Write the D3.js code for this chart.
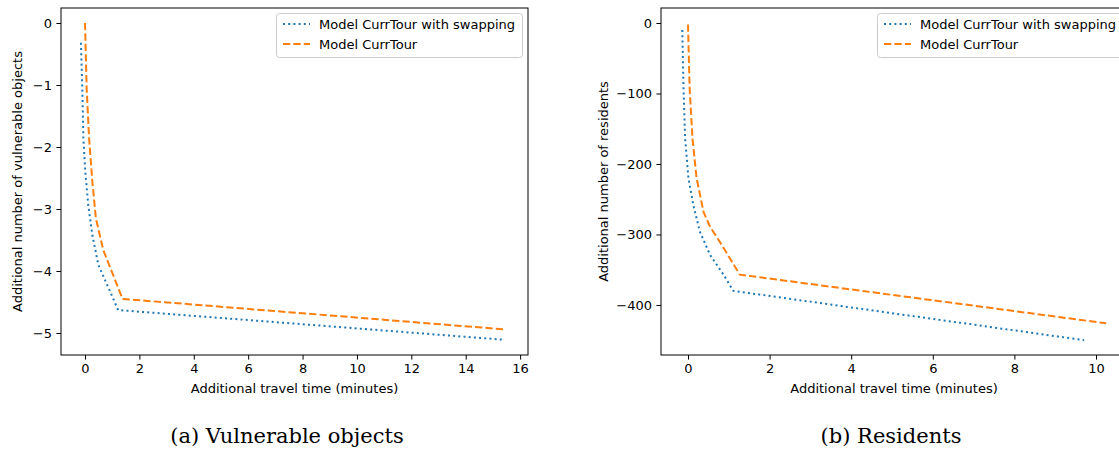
<!DOCTYPE html>
<html lang='en'>
<head>
   <meta charset='UTF-8'>
   <title>CurrTour trade-off</title>
   <script src='https://d3js.org/d3.v7.min.js'></script>
   <style>
      body { margin: 0; background: #fff; }
      svg { display: block; }
      text { font-family: 'DejaVu Sans', sans-serif; fill: #000; }
      .caption { font-family: 'DejaVu Serif', serif; font-size: 21px; }
   </style>
</head>
<body>
   <div id='svg-container'></div>
   <script>
      const seriesNames = ['Model CurrTour with swapping', 'Model CurrTour'];

      // (a) vulnerable objects
      const swapTimeA = [-0.15, -0.10, -0.06, 0.01, 0.12, 0.27, 0.49, 0.92, 1.22, 15.44];
      const swapObjA = [-0.32, -1.05, -1.86, -2.40, -2.94, -3.42, -3.90, -4.33, -4.63, -5.11];
      const currTimeA = [0, 0.06, 0.15, 0.27, 0.40, 0.67, 1.38, 15.37];
      const currObjA = [0, -1.05, -1.86, -2.56, -3.15, -3.66, -4.45, -4.94];
      const xTicksA = [0, 2, 4, 6, 8, 10, 12, 14, 16];
      const yTicksA = [0, -1, -2, -3, -4, -5];

      // (b) residents
      const swapTimeB = [-0.14, -0.11, -0.07, 0.01, 0.13, 0.29, 0.54, 0.87, 1.11, 9.71];
      const swapResB = [-10, -93, -164, -220, -258, -296, -329, -357, -380, -450];
      const currTimeB = [0, 0.04, 0.11, 0.21, 0.38, 0.54, 0.83, 1.27, 10.25];
      const currResB = [-2, -93, -164, -220, -268, -289, -315, -357, -426];
      const xTicksB = [0, 2, 4, 6, 8, 10];
      const yTicksB = [0, -100, -200, -300, -400];

      const svg = d3.select('#svg-container').append('svg').attr('width', 1119).attr('height', 450);

      const panels = [
         {
            left: 61, right: 528, top: 8, bottom: 355,
            xDomain: [-0.883, 16.29], yDomain: [-5.355, 0.242],
            xTicks: xTicksA, yTicks: yTicksA,
            swap: swapTimeA.map((t, i) => [t, swapObjA[i]]),
            curr: currTimeA.map((t, i) => [t, currObjA[i]]),
            yLabel: 'Additional number of vulnerable objects', yLabelX: 22,
            legendX: 276, caption: '(a) Vulnerable objects', captionX: 287
         },
         {
            left: 661, right: 1127, top: 8, bottom: 355,
            xDomain: [-0.662, 10.76], yDomain: [-471, 21.3],
            xTicks: xTicksB, yTicks: yTicksB,
            swap: swapTimeB.map((t, i) => [t, swapResB[i]]),
            curr: currTimeB.map((t, i) => [t, currResB[i]]),
            yLabel: 'Additional number of residents', yLabelX: 608,
            legendX: 877, caption: '(b) Residents', captionX: 891
         }
      ];

      const colours = ['#1f77b4', '#ff7f0e'];
      const dashes = ['2,3.2', '7.3,3.1'];

      panels.forEach(p => {
         const x = d3.scaleLinear().domain(p.xDomain).range([p.left, p.right]);
         const y = d3.scaleLinear().domain(p.yDomain).range([p.bottom, p.top]);

         const xAxis = d3.axisBottom(x).tickValues(p.xTicks).tickSize(4.6).tickPadding(4.4).tickFormat(d3.format('d'));
         const yAxis = d3.axisLeft(y).tickValues(p.yTicks).tickSize(4.6).tickPadding(4.4).tickFormat(d3.format('d'));

         const gx = svg.append('g').attr('transform', `translate(0, ${p.bottom})`).call(xAxis);
         const gy = svg.append('g').attr('transform', `translate(${p.left}, 0)`).call(yAxis);
         [gx, gy].forEach(g => {
            g.select('.domain').remove();
            g.selectAll('line').attr('stroke', '#000').attr('stroke-width', 1);
            g.selectAll('text').style('font-size', '13px').attr('fill', '#000')
               .style('font-family', "'DejaVu Sans', sans-serif");
         });

         // frame
         svg.append('rect')
            .attr('x', p.left).attr('y', p.top)
            .attr('width', p.right - p.left).attr('height', p.bottom - p.top)
            .attr('fill', 'none').attr('stroke', '#000').attr('stroke-width', 1);

         const line = d3.line().x(d => x(d[0])).y(d => y(d[1]));
         [p.swap, p.curr].forEach((data, i) => {
            svg.append('path')
               .datum(data)
               .attr('d', line)
               .attr('fill', 'none')
               .attr('stroke', colours[i])
               .attr('stroke-width', 2)
               .attr('stroke-dasharray', dashes[i]);
         });

         // axis labels
         svg.append('text')
            .attr('x', (p.left + p.right) / 2 - (p.right > 1119 ? 0 : 0))
            .attr('y', 393)
            .attr('text-anchor', 'middle')
            .style('font-size', '13px')
            .text('Additional travel time (minutes)');
         svg.append('text')
            .attr('transform', `translate(${p.yLabelX}, ${(p.top + p.bottom) / 2}) rotate(-90)`)
            .attr('text-anchor', 'middle')
            .style('font-size', '13px')
            .text(p.yLabel);

         // legend
         const lg = svg.append('g').attr('transform', `translate(${p.legendX}, 13)`);
         lg.append('rect')
            .attr('x', 0.5).attr('y', 0.5).attr('width', 246).attr('height', 44)
            .attr('rx', 3)
            .attr('fill', 'rgba(255,255,255,0.8)').attr('stroke', '#ccc').attr('stroke-width', 1);
         seriesNames.forEach((name, i) => {
            const ly = 11 + i * 20;
            lg.append('line')
               .attr('x1', 7).attr('x2', 34).attr('y1', ly).attr('y2', ly)
               .attr('stroke', colours[i]).attr('stroke-width', 2)
               .attr('stroke-dasharray', dashes[i]);
            lg.append('text')
               .attr('x', 43).attr('y', ly + 4.5)
               .style('font-size', '13px')
               .text(name);
         });

         svg.append('text')
            .attr('class', 'caption')
            .attr('x', p.captionX).attr('y', 443)
            .attr('text-anchor', 'middle')
            .text(p.caption);
      });
   </script>
</body>
</html>
